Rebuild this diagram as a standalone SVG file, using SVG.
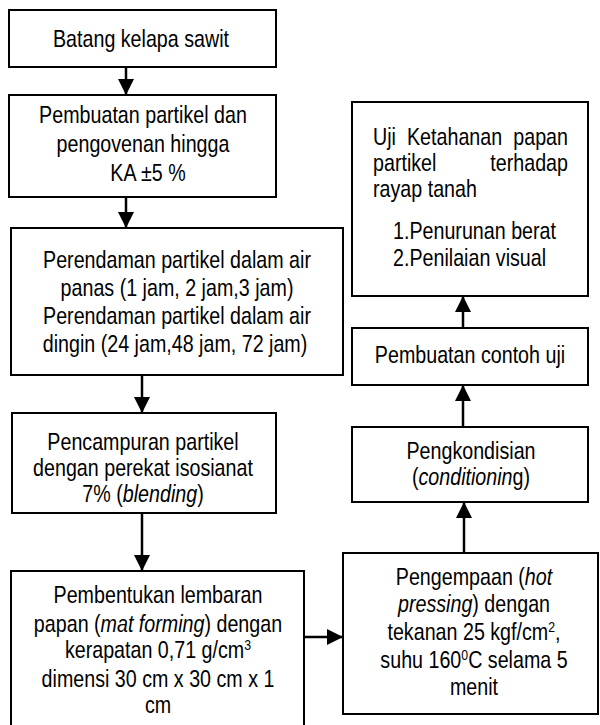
<svg xmlns="http://www.w3.org/2000/svg" width="600" height="725" viewBox="0 0 600 725">
<style>
.box{fill:#fff;stroke:#000;stroke-width:2}
.t{font-family:"Liberation Sans Narrow","Liberation Sans",Arial,sans-serif;font-size:24px;fill:#000;text-anchor:middle}
.l{text-anchor:start}
.e{text-anchor:end}
.i{font-style:italic}
.sup{font-size:15px}
.c{fill:none;stroke:#000;stroke-width:2.5}
</style>
<defs>
<marker id="ah" markerUnits="userSpaceOnUse" markerWidth="16" markerHeight="16" refX="16" refY="8" orient="auto" viewBox="0 0 16 16">
<path d="M0,0 L16,8 L0,16 z" fill="#000"/>
</marker>
</defs>
<rect width="600" height="725" fill="#fff"/>
<g id="connectors">
<line class="c" x1="126" y1="67" x2="126" y2="95" marker-end="url(#ah)"/>
<line class="c" x1="126" y1="197" x2="126" y2="228" marker-end="url(#ah)"/>
<line class="c" x1="142" y1="375" x2="142" y2="413" marker-end="url(#ah)"/>
<line class="c" x1="142" y1="513" x2="142" y2="571" marker-end="url(#ah)"/>
<line class="c" x1="304" y1="637" x2="343" y2="637" marker-end="url(#ah)"/>
<line class="c" x1="464" y1="553" x2="464" y2="502" marker-end="url(#ah)"/>
<line class="c" x1="463" y1="427" x2="463" y2="385" marker-end="url(#ah)"/>
<line class="c" x1="463" y1="328" x2="463" y2="296" marker-end="url(#ah)"/>
</g>
<g id="n1">
<rect class="box" x="9" y="10" width="267" height="57"/>
<text class="t" transform="translate(141 47) scale(0.82 1)">Batang kelapa sawit</text>
</g>
<g id="n2">
<rect class="box" x="9" y="95" width="267" height="102"/>
<text class="t" transform="translate(143 123) scale(0.82 1)">Pembuatan partikel dan</text>
<text class="t" transform="translate(143 152) scale(0.82 1)">pengovenan hingga</text>
<text class="t" transform="translate(148 181) scale(0.82 1)">KA ±5 %</text>
</g>
<g id="n3">
<rect class="box" x="11" y="228" width="332" height="147"/>
<text class="t" transform="translate(177 268) scale(0.82 1)">Perendaman partikel dalam air</text>
<text class="t" transform="translate(177 296) scale(0.82 1)">panas (1 jam, 2 jam,3 jam)</text>
<text class="t" transform="translate(177 324) scale(0.82 1)">Perendaman partikel dalam air</text>
<text class="t" transform="translate(175 352) scale(0.82 1)">dingin (24 jam,48 jam, 72 jam)</text>
</g>
<g id="n4">
<rect class="box" x="12" y="413" width="264" height="100"/>
<text class="t" transform="translate(143 450) scale(0.82 1)">Pencampuran partikel</text>
<text class="t" transform="translate(143 476) scale(0.82 1)">dengan perekat isosianat</text>
<text class="t" transform="translate(143 502) scale(0.82 1)">7% (<tspan class="i">blending</tspan>)</text>
</g>
<g id="n5">
<rect class="box" x="11" y="571" width="293" height="170"/>
<text class="t" transform="translate(158 603) scale(0.82 1)">Pembentukan lembaran</text>
<text class="t" transform="translate(158 632) scale(0.82 1)">papan (<tspan class="i">mat forming</tspan>) dengan</text>
<text class="t" transform="translate(158 658) scale(0.82 1)">kerapatan 0,71 g/cm<tspan class="sup" dy="-8">3</tspan></text>
<text class="t" transform="translate(158 687) scale(0.82 1)">dimensi 30 cm x 30 cm x 1</text>
<text class="t" transform="translate(158 713) scale(0.82 1)">cm</text>
</g>
<g id="n6">
<rect class="box" x="343" y="553" width="255" height="161"/>
<text class="t" transform="translate(474 585) scale(0.82 1)">Pengempaan (<tspan class="i">hot</tspan></text>
<text class="t" transform="translate(474 612) scale(0.82 1)"><tspan class="i">pressing</tspan>) dengan</text>
<text class="t" transform="translate(474 640) scale(0.82 1)">tekanan 25 kgf/cm<tspan class="sup" dy="-8">2</tspan><tspan dy="8">,</tspan></text>
<text class="t" transform="translate(474 668) scale(0.82 1)">suhu 160<tspan class="sup" dy="-8">0</tspan><tspan dy="8">C selama 5</tspan></text>
<text class="t" transform="translate(474 695) scale(0.82 1)">menit</text>
</g>
<g id="n7">
<rect class="box" x="352" y="427" width="236" height="75"/>
<text class="t" transform="translate(471 459) scale(0.82 1)">Pengkondisian</text>
<text class="t" transform="translate(471 485) scale(0.82 1)">(<tspan class="i">conditionin</tspan>g)</text>
</g>
<g id="n8">
<rect class="box" x="352" y="328" width="236" height="57"/>
<text class="t" transform="translate(470 363) scale(0.82 1)">Pembuatan contoh uji</text>
</g>
<g id="n9">
<rect class="box" x="352" y="102" width="236" height="194"/>
<text class="t l" transform="translate(373 145) scale(0.82 1)">Uji</text>
<text class="t l" transform="translate(407 145) scale(0.82 1)">Ketahanan</text>
<text class="t e" transform="translate(568 145) scale(0.82 1)">papan</text>
<text class="t l" transform="translate(373 171) scale(0.82 1)">partikel</text>
<text class="t e" transform="translate(568 171) scale(0.82 1)">terhadap</text>
<text class="t l" transform="translate(373 197) scale(0.82 1)">rayap tanah</text>
<text class="t l" transform="translate(393 239) scale(0.82 1)">1.Penurunan berat</text>
<text class="t l" transform="translate(393 266) scale(0.82 1)">2.Penilaian visual</text>
</g>
</svg>
